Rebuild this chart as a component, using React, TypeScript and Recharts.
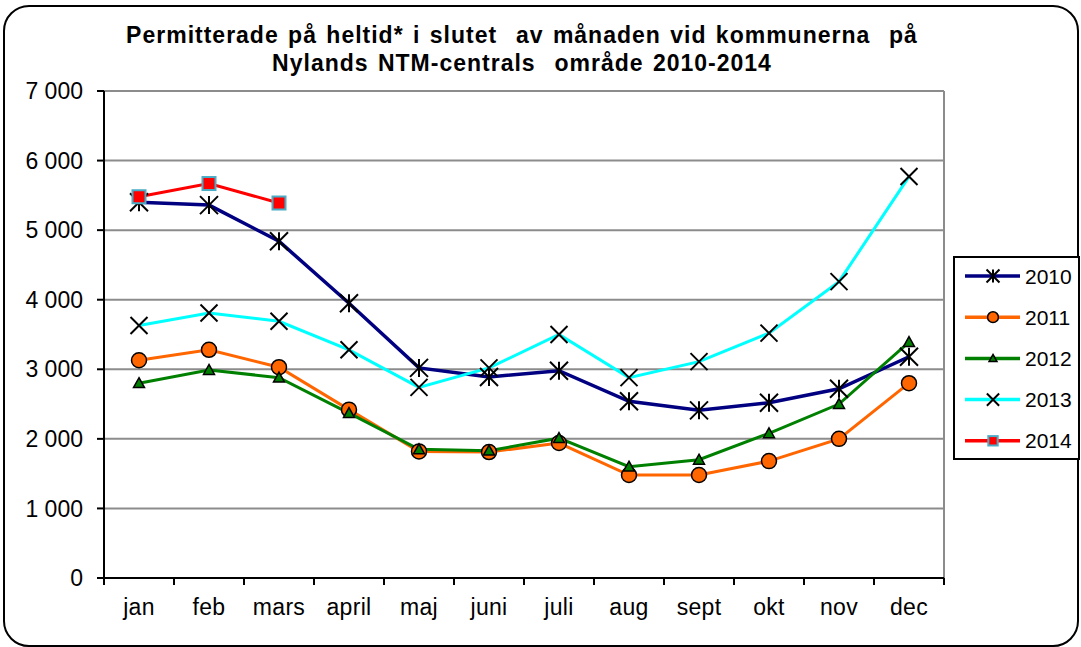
import React from "react";
import {
  CartesianGrid,
  Legend,
  Line,
  LineChart,
  XAxis,
  YAxis,
} from "recharts";

const months = ["jan", "feb", "mars", "april", "maj", "juni", "juli", "aug", "sept", "okt", "nov", "dec"];
const v2010 = [5400, 5360, 4840, 3950, 3020, 2890, 2980, 2540, 2410, 2520, 2720, 3180];
const v2011 = [3130, 3280, 3030, 2420, 1820, 1810, 1940, 1480, 1480, 1680, 2000, 2800];
const v2012 = [2800, 2990, 2880, 2370, 1850, 1830, 2010, 1600, 1700, 2080, 2500, 3390];
const v2013 = [3630, 3810, 3690, 3280, 2740, 3020, 3500, 2880, 3110, 3520, 4260, 5770];
const v2014 = [5480, 5670, 5390];
const yTicks = [0, 1000, 2000, 3000, 4000, 5000, 6000, 7000];

const data = months.map((m, i) => ({
  month: m,
  y2010: v2010[i],
  y2011: v2011[i],
  y2012: v2012[i],
  y2013: v2013[i],
  y2014: v2014[i] ?? null,
}));

const series = [
  { key: "y2010", name: "2010", color: "#000080", marker: "star", width: 3.5 },
  { key: "y2011", name: "2011", color: "#FF6600", marker: "circle", width: 3 },
  { key: "y2012", name: "2012", color: "#008000", marker: "triangle", width: 3 },
  { key: "y2013", name: "2013", color: "#00FFFF", marker: "x", width: 3 },
  { key: "y2014", name: "2014", color: "#FF0000", marker: "square", width: 3 },
];

const FONT = '"Liberation Sans", Arial, sans-serif';

const fmt = (v: number) => String(v).replace(/\B(?=(\d{3})+(?!\d))/g, " ");

const Marker = ({ kind, cx, cy, s = 1 }: any) => {
  if (kind === "star") {
    const r = 9 * s;
    return (
      <g stroke="#000" strokeWidth={2}>
        <line x1={cx - r} y1={cy - r} x2={cx + r} y2={cy + r} />
        <line x1={cx - r} y1={cy + r} x2={cx + r} y2={cy - r} />
        <line x1={cx} y1={cy - r} x2={cx} y2={cy + r} />
      </g>
    );
  }
  if (kind === "x") {
    const r = 8.5 * s;
    return (
      <g stroke="#000" strokeWidth={2}>
        <line x1={cx - r} y1={cy - r} x2={cx + r} y2={cy + r} />
        <line x1={cx - r} y1={cy + r} x2={cx + r} y2={cy - r} />
      </g>
    );
  }
  if (kind === "circle") {
    return <circle cx={cx} cy={cy} r={7.5 * s} fill="#FF6600" stroke="#000" strokeWidth={1.5} />;
  }
  if (kind === "triangle") {
    const r = 5.5 * s;
    return (
      <polygon
        points={`${cx},${cy - r} ${cx + r},${cy + r * 0.8} ${cx - r},${cy + r * 0.8}`}
        fill="#008000"
        stroke="#000"
        strokeWidth={1.5}
      />
    );
  }
  const h = 6.5 * s;
  return <rect x={cx - h} y={cy - h} width={h * 2} height={h * 2} fill="#FF0000" stroke="#4BACC6" strokeWidth={2} />;
};

const dotFor = (kind: string) => (p: any) => {
  if (p.cy == null || p.value == null) return <g key={`d-${p.index}`} />;
  return <Marker key={`d-${p.index}`} kind={kind} cx={p.cx} cy={p.cy} />;
};

// labels under each category, ticks on the category borders
const MonthTick = ({ x, y, payload, index, width, visibleTicksCount }: any) => {
  const step = width / visibleTicksCount;
  return (
    <g>
      <line x1={x - step / 2} y1={y} x2={x - step / 2} y2={y + 7} stroke="#000" strokeWidth={2} />
      {index === visibleTicksCount - 1 && (
        <line x1={x + step / 2} y1={y} x2={x + step / 2} y2={y + 7} stroke="#000" strokeWidth={2} />
      )}
      <text x={x} y={y + 37} textAnchor="middle" fill="#000" fontSize={23} letterSpacing={0.3} fontFamily={FONT}>
        {payload.value}
      </text>
    </g>
  );
};

const LegendBox = ({ payload }: any) => (
  <svg width={127} height={204} style={{ display: "block" }}>
    <rect x={1} y={1} width={125} height={202} fill="#fff" stroke="#000" strokeWidth={2} />
    {(payload || []).map((item: any, i: number) => {
      const s = series.find((d) => d.key === item.dataKey) || series[i];
      const cy = 20 + i * 41.2;
      return (
        <g key={s.key}>
          <line x1={12} y1={cy} x2={67} y2={cy} stroke={s.color} strokeWidth={3.5} />
          <Marker kind={s.marker} cx={40} cy={cy} s={0.72} />
          <text x={72} y={cy + 7.5} fontSize={21} fontFamily={FONT} fill="#000">
            {s.name}
          </text>
        </g>
      );
    })}
  </svg>
);

export default function App() {
  return (
    <div style={{ position: "absolute", left: 0, top: 0, width: 1081, height: 647, overflow: "hidden", background: "#fff", fontFamily: FONT }}>
      <div style={{ position: "absolute", left: 2, top: -40, width: 1074, height: 40, border: "3px solid #000", borderRadius: 22, boxSizing: "border-box" }} />
      <div style={{ position: "absolute", left: 3, top: 5, width: 1076, height: 642, border: "2px solid #000", borderRadius: 26, boxSizing: "border-box" }} />
      <div
        style={{
          position: "absolute",
          left: 0,
          top: 21,
          width: 1044,
          textAlign: "center",
          fontWeight: "bold",
          fontSize: 23,
          lineHeight: "28px",
          letterSpacing: 1,
          wordSpacing: 2,
          color: "#000",
        }}
      >
        Permitterade på heltid* i slutet&nbsp; av månaden vid kommunerna&nbsp; på
        <br />
        Nylands NTM-centrals&nbsp; område 2010-2014
      </div>
      <div style={{ position: "absolute", left: 0, top: 0 }}>
        <LineChart width={1081} height={647} data={data} margin={{ top: 91, right: 137, bottom: 39, left: 44 }}>
          <CartesianGrid
            stroke="#8c8c8c"
            strokeWidth={2}
            horizontal
            vertical
            verticalCoordinatesGenerator={({ offset }: any) => [offset.left + offset.width]}
          />
          <XAxis
            dataKey="month"
            scale="band"
            height={30}
            axisLine={{ stroke: "#000", strokeWidth: 2 }}
            tickLine={false}
            tickSize={0}
            tickMargin={0}
            interval={0}
            tick={<MonthTick />}
          />
          <YAxis
            width={60}
            domain={[0, 7000]}
            ticks={yTicks}
            interval={0}
            tickFormatter={fmt}
            axisLine={{ stroke: "#000", strokeWidth: 2 }}
            tickLine={{ stroke: "#000", strokeWidth: 2 }}
            tickSize={7}
            tickMargin={14}
            tick={{ fill: "#000", fontSize: 23, fontFamily: FONT }}
          />
          <Legend
            layout="vertical"
            align="center"
            verticalAlign="middle"
            content={<LegendBox />}
            wrapperStyle={{ left: 953, top: 256, width: 127, height: 204 }}
          />
          {series.map((s) => (
            <Line
              key={s.key}
              dataKey={s.key}
              name={s.name}
              type="linear"
              stroke={s.color}
              strokeWidth={s.width}
              dot={dotFor(s.marker)}
              activeDot={false}
              connectNulls={false}
              isAnimationActive={false}
            />
          ))}
        </LineChart>
      </div>
    </div>
  );
}
